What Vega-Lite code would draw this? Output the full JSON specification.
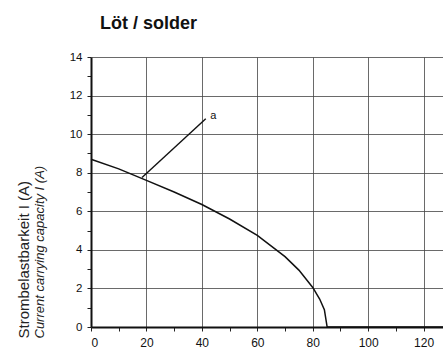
{
  "$schema": "https://vega.github.io/schema/vega-lite/v6.json",
  "autosize": {"type": "none"},
  "padding": {"left": 91, "top": 57, "right": 0, "bottom": 24},
  "width": 352,
  "height": 270,
  "background": "white",
  "title": {
    "text": "Löt / solder",
    "anchor": "start",
    "frame": "group",
    "font": "Liberation Sans Narrow, Liberation Sans, Arial",
    "fontSize": 18,
    "fontWeight": "bold",
    "color": "#111",
    "dx": 9,
    "offset": 18
  },
  "config": {
    "view": {"stroke": null},
    "axis": {
      "labelFont": "Liberation Sans, Arial",
      "titleFont": "Liberation Sans, Arial",
      "labelColor": "#111",
      "titleColor": "#222",
      "labelFontSize": 11.5
    }
  },
  "datasets": {
    "curve": [
      {"temp": 0, "current": 8.7},
      {"temp": 10, "current": 8.2},
      {"temp": 20, "current": 7.6},
      {"temp": 30, "current": 7.0},
      {"temp": 40, "current": 6.35},
      {"temp": 50, "current": 5.6},
      {"temp": 60, "current": 4.75},
      {"temp": 70, "current": 3.65},
      {"temp": 75, "current": 2.95},
      {"temp": 80, "current": 2.05},
      {"temp": 82.5, "current": 1.45},
      {"temp": 84.2, "current": 0.9},
      {"temp": 85.2, "current": 0},
      {"temp": 127, "current": 0}
    ],
    "leader": [
      {"temp": 18.4, "current": 7.75},
      {"temp": 41.4, "current": 10.8}
    ],
    "label": [
      {"temp": 43, "current": 10.95, "text": "a"}
    ]
  },
  "layer": [
    {
      "data": {"name": "curve"},
      "mark": {"type": "line", "color": "#111", "strokeWidth": 1.5},
      "encoding": {
        "x": {
          "field": "temp", "type": "quantitative",
          "scale": {"domain": [0, 127], "nice": false, "zero": false},
          "axis": {
            "values": [0, 10, 20, 30, 40, 50, 60, 70, 80, 90, 100, 110, 120],
            "labelExpr": "datum.value % 20 === 0 ? datum.label : ''",
            "title": null,
            "grid": true,
            "gridColor": "#444",
            "gridWidth": 0.8,
            "gridOpacity": {"condition": {"test": "datum.value % 20 === 0 && datum.value > 0", "value": 1}, "value": 0},
            "domainColor": "#111",
            "domainWidth": 2,
            "tickColor": "#222",
            "tickSize": 4,
            "labelPadding": 6,
            "labelFontSize": 12
          }
        },
        "y": {
          "field": "current", "type": "quantitative",
          "scale": {"domain": [0, 14], "nice": false},
          "axis": {
            "values": [0, 1, 2, 3, 4, 5, 6, 7, 8, 9, 10, 11, 12, 13, 14],
            "labelExpr": "datum.value % 2 === 0 ? datum.label : ''",
            "grid": true,
            "gridColor": "#444",
            "gridWidth": 0.8,
            "gridOpacity": {"condition": {"test": "datum.value % 2 === 0 && datum.value > 0", "value": 1}, "value": 0},
            "domainColor": "#111",
            "domainWidth": 2,
            "tickColor": "#222",
            "tickSize": 4,
            "labelPadding": 5,
            "title": "Strombelastbarkeit I (A)",
            "titleFontWeight": "normal",
            "titleFontSize": 15,
            "titleAngle": -90,
            "titleAlign": "left",
            "titleBaseline": "alphabetic",
            "titleX": -63,
            "titleY": 281
          }
        }
      }
    },
    {
      "data": {"name": "leader"},
      "mark": {"type": "line", "color": "#111", "strokeWidth": 1.4},
      "encoding": {
        "x": {"field": "temp", "type": "quantitative", "axis": null},
        "y": {
          "field": "current", "type": "quantitative",
          "axis": {
            "orient": "left",
            "labels": false,
            "ticks": false,
            "domain": false,
            "grid": false,
            "title": "Current carrying capacity I (A)",
            "titleFontWeight": "normal",
            "titleFontStyle": "italic",
            "titleFontSize": 13,
            "titleAngle": -90,
            "titleAlign": "left",
            "titleBaseline": "alphabetic",
            "titleX": -48,
            "titleY": 281
          }
        }
      }
    },
    {
      "data": {"name": "label"},
      "mark": {"type": "text", "align": "left", "baseline": "middle", "font": "Liberation Sans, Arial", "fontSize": 11, "color": "#111"},
      "encoding": {
        "x": {"field": "temp", "type": "quantitative", "axis": null},
        "y": {"field": "current", "type": "quantitative", "axis": null},
        "text": {"field": "text"}
      }
    }
  ],
  "resolve": {"axis": {"x": "independent", "y": "independent"}}
}
